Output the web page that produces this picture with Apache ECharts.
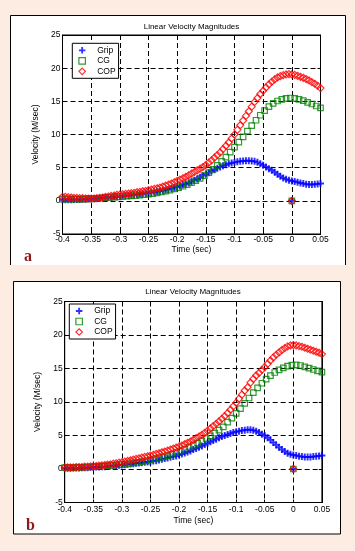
<!DOCTYPE html>
<html><head><meta charset="utf-8">
<script src="https://cdn.jsdelivr.net/npm/echarts@6/dist/echarts.min.js"></script>
<style>html,body{margin:0;padding:0;background:#fdece2;} #c{width:355px;height:551px;}</style>
</head><body><div id="c"></div>
<script>
// sampling times (s)
const t5 = [-0.4,-0.395,-0.39,-0.385,-0.38,-0.375,-0.37,-0.365,-0.36,-0.355,
  -0.35,-0.345,-0.34,-0.335,-0.33,-0.325,-0.32,-0.315,-0.31,-0.305,
  -0.3,-0.295,-0.29,-0.285,-0.28,-0.275,-0.27,-0.265,-0.26,-0.255,
  -0.25,-0.245,-0.24,-0.235,-0.23,-0.225,-0.22,-0.215,-0.21,-0.205,
  -0.2,-0.195,-0.19,-0.185,-0.18,-0.175,-0.17,-0.165,-0.16,-0.155,
  -0.15,-0.145,-0.14,-0.135,-0.13,-0.125,-0.12,-0.115,-0.11,-0.105,
  -0.1,-0.095,-0.09,-0.085,-0.08,-0.075,-0.07,-0.065,-0.06,-0.055,
  -0.05,-0.045,-0.04,-0.035,-0.03,-0.025,-0.02,-0.015,-0.01,-0.005,
  0,0.005,0.01,0.015,0.02,0.025,0.03,0.035,0.04,0.045,
  0.05];
const t75 = [-0.4,-0.3925,-0.385,-0.3775,-0.37,-0.3625,-0.355,-0.3475,-0.34,-0.3325,
  -0.325,-0.3175,-0.31,-0.3025,-0.295,-0.2875,-0.28,-0.2725,-0.265,-0.2575,
  -0.25,-0.2425,-0.235,-0.2275,-0.22,-0.2125,-0.205,-0.1975,-0.19,-0.1825,
  -0.175,-0.1675,-0.16,-0.1525,-0.145,-0.1375,-0.13,-0.1225,-0.115,-0.1075,
  -0.1,-0.0925,-0.085,-0.0775,-0.07,-0.0625,-0.055,-0.0475,-0.04,-0.0325,
  -0.025,-0.0175,-0.01,-0.0025,0.005,0.0125,0.02,0.0275,0.035,0.0425,
  0.05];

// panel a
const gripA = [0.15,0.15,0.15,0.15,0.2,0.2,0.2,0.25,0.25,0.3,
  0.3,0.35,0.35,0.4,0.45,0.5,0.5,0.55,0.6,0.6,
  0.65,0.7,0.75,0.8,0.85,0.9,0.95,1.0,1.05,1.1,
  1.2,1.25,1.3,1.4,1.45,1.55,1.65,1.75,1.85,2.0,
  2.1,2.25,2.4,2.55,2.7,2.9,3.1,3.3,3.55,3.8,
  4.0,4.25,4.5,4.7,4.9,5.1,5.3,5.45,5.6,5.7,
  5.8,5.9,5.95,6.0,6.05,6.05,6.0,5.95,5.8,5.6,
  5.35,5.1,4.85,4.6,4.3,4.0,3.7,3.45,3.25,3.1,
  3.0,2.9,2.8,2.7,2.6,2.5,2.45,2.45,2.5,2.55,
  2.6];
const cgA = [0.25,0.25,0.25,0.25,0.25,0.25,0.3,0.3,0.35,0.4,
  0.45,0.5,0.55,0.6,0.65,0.7,0.75,0.8,0.85,0.95,
  1.0,1.1,1.2,1.35,1.45,1.6,1.8,2.0,2.2,2.45,
  2.75,3.05,3.4,3.8,4.25,4.75,5.35,5.95,6.6,7.35,
  8.1,8.85,9.65,10.5,11.35,12.15,12.9,13.6,14.2,14.7,
  15.05,15.3,15.45,15.5,15.45,15.3,15.1,14.85,14.6,14.3,
  14.0];
const copA = [0.6,0.6,0.55,0.5,0.45,0.45,0.4,0.4,0.35,0.35,
  0.35,0.35,0.4,0.45,0.5,0.6,0.65,0.75,0.8,0.9,
  0.95,1.0,1.05,1.1,1.15,1.2,1.3,1.35,1.45,1.5,
  1.6,1.7,1.8,1.9,2.0,2.15,2.3,2.45,2.6,2.8,
  3.0,3.2,3.4,3.6,3.85,4.1,4.35,4.6,4.85,5.1,
  5.4,5.75,6.1,6.5,6.9,7.3,7.8,8.3,8.8,9.4,
  10.0,10.7,11.4,12.1,12.8,13.5,14.2,14.9,15.5,16.1,
  16.6,17.1,17.55,17.95,18.3,18.6,18.8,18.95,19.05,19.1,
  19.05,19.0,18.85,18.7,18.55,18.35,18.15,17.9,17.65,17.35,
  17.0];

// panel b
const gripB = [0.1,0.1,0.1,0.15,0.15,0.15,0.2,0.2,0.2,0.25,
  0.25,0.3,0.3,0.35,0.35,0.4,0.45,0.5,0.5,0.55,
  0.6,0.65,0.7,0.75,0.8,0.85,0.9,0.95,1.0,1.05,
  1.1,1.2,1.25,1.35,1.45,1.55,1.65,1.75,1.85,1.95,
  2.1,2.25,2.4,2.55,2.7,2.9,3.05,3.25,3.45,3.65,
  3.85,4.05,4.25,4.45,4.65,4.85,5.0,5.15,5.3,5.45,
  5.55,5.65,5.75,5.8,5.85,5.85,5.8,5.65,5.45,5.2,
  4.95,4.65,4.35,3.95,3.6,3.25,2.9,2.6,2.35,2.2,
  2.1,2.0,1.9,1.85,1.8,1.8,1.8,1.85,1.9,1.95,
  2.0];
const cgB = [0.2,0.2,0.2,0.25,0.25,0.3,0.3,0.35,0.4,0.45,
  0.5,0.55,0.6,0.65,0.7,0.8,0.9,1.0,1.1,1.2,
  1.35,1.5,1.65,1.8,2.0,2.2,2.45,2.7,2.95,3.25,
  3.55,3.85,4.2,4.55,4.95,5.35,5.8,6.3,7.0,7.6,
  8.3,9.0,9.8,10.6,11.4,12.1,12.8,13.4,13.95,14.4,
  14.8,15.1,15.35,15.5,15.55,15.45,15.25,15.05,14.85,14.65,
  14.45];
const copB = [0.25,0.25,0.25,0.25,0.3,0.3,0.3,0.35,0.35,0.4,
  0.4,0.45,0.5,0.55,0.6,0.65,0.7,0.8,0.85,0.95,
  1.0,1.1,1.2,1.3,1.4,1.5,1.6,1.7,1.8,1.9,
  2.0,2.1,2.25,2.35,2.5,2.6,2.75,2.9,3.05,3.2,
  3.35,3.5,3.7,3.9,4.1,4.35,4.6,4.85,5.1,5.4,
  5.7,6.05,6.4,6.75,7.1,7.5,7.9,8.35,8.85,9.35,
  9.9,10.5,11.1,11.7,12.2,12.9,13.45,13.95,14.35,14.8,
  15.2,15.7,16.2,16.65,17.05,17.4,17.75,18.05,18.3,18.45,
  18.5,18.45,18.35,18.25,18.1,17.95,17.8,17.65,17.5,17.35,
  17.15];

const zeroPoint = [0, 0];
const seriesNames = ['Grip', 'CG', 'COP'];
const titleText = 'Linear Velocity Magnitudes';
const xName = 'Time (sec)';
const yName = 'Velocity (M/sec)';
const panelLetters = ['a', 'b'];
const xTickValues = [-0.4,-0.35,-0.3,-0.25,-0.2,-0.15,-0.1,-0.05,0,0.05];
const xTickLabels = ['-0.4','-0.35','-0.3','-0.25','-0.2','-0.15','-0.1','-0.05','0','0.05'];
const yTickValues = [-5,0,5,10,15,20,25];
const yTickLabels = ['-5','0','5','10','15','20','25'];

const FONT = '"Liberation Sans", Arial, sans-serif';
const PLUS = 'path://M3.6,0H6.4V3.6H10V6.4H6.4V10H3.6V6.4H0V3.6H3.6Z';
const SQUARE = 'path://M0,0H10V10H0Z';
const DIAMOND = 'path://M5,0L10,5L5,10L0,5Z';
const COLORS = ['#0000ff', '#008000', '#ff0000'];

function lookup(vals, labels, v) {
  for (let i = 0; i < vals.length; i++) if (Math.abs(vals[i] - v) < 1e-6) return labels[i];
  return '';
}
function pairs(ts, vs) { return ts.map((t, i) => [t, vs[i]]).concat([zeroPoint]); }

function mkSeries(name, data, ai, sym, size, color, hollow) {
  return {
    type: 'scatter', name, data, xAxisIndex: ai, yAxisIndex: ai,
    symbol: sym, symbolSize: size, silent: true, clip: false,
    itemStyle: hollow ? { color: 'transparent', borderColor: color, borderWidth: 1.2 } : { color, borderWidth: 0 },
    emphasis: { disabled: true }, animation: false
  };
}

function xAx(gi, pos, labelMargin, nameGap) {
  const main = pos === 'bottom';
  return {
    type: 'value', gridIndex: gi, position: pos, min: -0.4, max: 0.05, interval: 0.05,
    axisLine: { show: true, onZero: false, lineStyle: { color: '#000', width: 1 } },
    axisTick: { show: true, inside: true, length: 3, lineStyle: { color: '#000', width: 1 } },
    axisLabel: { show: main, margin: labelMargin, fontSize: 8.5, color: '#000', fontFamily: FONT, hideOverlap: false,
      formatter: v => lookup(xTickValues, xTickLabels, v) },
    splitLine: { show: main, lineStyle: { color: '#000', width: 1, type: [5, 3] } },
    name: main ? xName : '', nameLocation: 'middle', nameGap: nameGap,
    nameTextStyle: { fontSize: 8.5, color: '#000', fontFamily: FONT }
  };
}
function yAx(gi, pos, nameGap) {
  const main = pos === 'left';
  return {
    type: 'value', gridIndex: gi, position: pos, min: -5, max: 25, interval: 5,
    axisLine: { show: true, onZero: false, lineStyle: { color: '#000', width: 1 } },
    axisTick: { show: true, inside: true, length: 3, lineStyle: { color: '#000', width: 1 } },
    axisLabel: { show: main, margin: 2, fontSize: 8.5, color: '#000', fontFamily: FONT, hideOverlap: false,
      formatter: v => lookup(yTickValues, yTickLabels, v) },
    splitLine: { show: main, lineStyle: { color: '#000', width: 1, type: [5, 3] } },
    name: main ? yName : '', nameLocation: 'middle', nameGap: nameGap,
    nameTextStyle: { fontSize: 8.5, color: '#000', fontFamily: FONT }
  };
}
function legendAt(left, top) {
  return {
    left, top, orient: 'vertical', itemWidth: 20, itemHeight: 6.5, itemGap: 0.5,
    padding: [2, 3, 2, 6], borderColor: '#000', borderWidth: 1, borderRadius: 0, backgroundColor: '#fff',
    textStyle: { fontSize: 8.5, color: '#000', lineHeight: 10, fontFamily: FONT },
    selectedMode: false, itemStyle: { borderWidth: 1.2 },
    data: [{ name: seriesNames[0], icon: PLUS }, { name: seriesNames[1], icon: SQUARE }, { name: seriesNames[2], icon: DIAMOND }]
  };
}
function mkTitle(cx, top) {
  return { text: titleText, left: cx, top: top, textAlign: 'center', padding: 0,
    textStyle: { fontSize: 8, fontWeight: 'normal', color: '#000', fontFamily: FONT } };
}

const chart = echarts.init(document.getElementById('c'), null, { renderer: 'canvas' });
chart.setOption({
  animation: false,
  backgroundColor: 'transparent',
  textStyle: { fontFamily: FONT },
  title: [mkTitle(191.5, 23), mkTitle(193, 287.5)],
  legend: [legendAt(72.3, 43.3), legendAt(69.3, 304)],
  grid: [
    { left: 62.5, top: 35, width: 258, height: 199, show: true, borderColor: '#000', borderWidth: 1, backgroundColor: 'transparent', outerBoundsMode: 'none', containLabel: false },
    { left: 64.7, top: 301.5, width: 257.2, height: 201, show: true, borderColor: '#000', borderWidth: 1, backgroundColor: 'transparent', outerBoundsMode: 'none', containLabel: false }
  ],
  xAxis: [xAx(0, 'bottom', 1.5, 11), xAx(0, 'top', 2, 0), xAx(1, 'bottom', 3, 13.5), xAx(1, 'top', 2, 0)],
  yAxis: [yAx(0, 'left', 15.5), yAx(0, 'right', 0), yAx(1, 'left', 14), yAx(1, 'right', 0)],
  graphic: [
    { type: 'rect', z: -10, shape: { x: 10, y: 15, width: 335.5, height: 250 }, style: { fill: '#fff' } },
    { type: 'polyline', z: -9, shape: { points: [[10.5, 265], [10.5, 15.5], [345.5, 15.5], [345.5, 265]] }, style: { stroke: '#000', lineWidth: 1, fill: null } },
    { type: 'rect', z: -10, shape: { x: 13.5, y: 281.5, width: 327, height: 252.5 }, style: { fill: '#fff', stroke: '#000', lineWidth: 1 } },
    { type: 'text', z: 10, x: 24, y: 256.6, style: { text: panelLetters[0], font: 'bold 16px "Liberation Serif", serif', fill: '#8b1a1a', verticalAlign: 'middle' } },
    { type: 'text', z: 10, x: 26, y: 526.3, style: { text: panelLetters[1], font: 'bold 16px "Liberation Serif", serif', fill: '#8b1a1a', verticalAlign: 'middle' } }
  ],
  series: [
    mkSeries(seriesNames[0], pairs(t5, gripA), 0, PLUS, 7, COLORS[0], false),
    mkSeries(seriesNames[1], pairs(t75, cgA), 0, SQUARE, 5.5, COLORS[1], true),
    mkSeries(seriesNames[2], pairs(t5, copA), 0, DIAMOND, 7, COLORS[2], true),
    mkSeries(seriesNames[0], pairs(t5, gripB), 2, PLUS, 7, COLORS[0], false),
    mkSeries(seriesNames[1], pairs(t75, cgB), 2, SQUARE, 5.5, COLORS[1], true),
    mkSeries(seriesNames[2], pairs(t5, copB), 2, DIAMOND, 7, COLORS[2], true)
  ]
});
</script></body></html>
